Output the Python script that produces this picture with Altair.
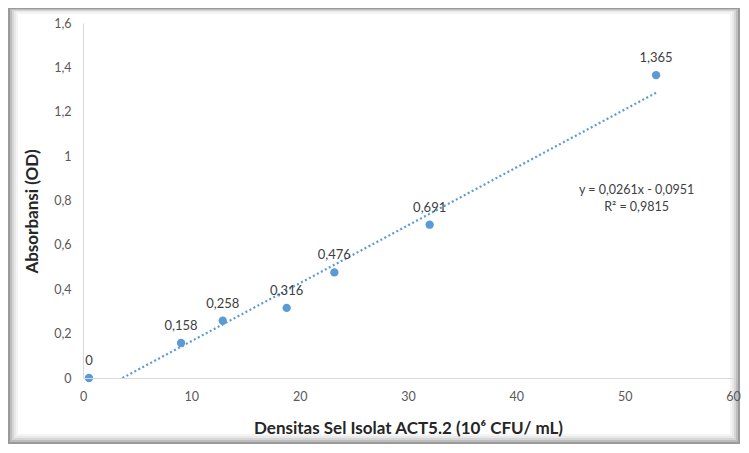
import altair as alt
import pandas as pd

# Data
density = [0.55, 9.05, 12.9, 18.8, 23.2, 32.0, 52.9]
absorbance = [0.0, 0.158, 0.258, 0.316, 0.476, 0.691, 1.365]
labels = ["0", "0,158", "0,258", "0,316", "0,476", "0,691", "1,365"]

# Linear trendline shown on the chart
slope = 0.0261
intercept = -0.0951
eq_lines = ["y = 0,0261x - 0,0951", "R² = 0,9815"]
eq_x = [51.1, 51.1]
eq_y = [0.848, 0.772]

x_ticks = [0, 10, 20, 30, 40, 50, 60]
y_ticks = [0, 0.2, 0.4, 0.6, 0.8, 1.0, 1.2, 1.4, 1.6]

BLUE = "#5b9bd5"
FONT = "Lato"

df = pd.DataFrame({"x": density, "y": absorbance, "label": labels})
x0 = -intercept / slope
x1 = max(density)
trend = pd.DataFrame({"x": [x0, x1], "y": [slope * x0 + intercept, slope * x1 + intercept]})
eq = pd.DataFrame({"x": eq_x, "y": eq_y, "t": eq_lines})

xscale = alt.Scale(domain=[0, 60], nice=False, zero=False)
yscale = alt.Scale(domain=[0, 1.6], nice=False)

lbl = "replace(format(datum.value, '~g'), '.', ',')"

base_x = alt.X("x:Q", scale=xscale,
               axis=alt.Axis(values=x_ticks, labelExpr=lbl, grid=False, ticks=False,
                             labelFlush=False, zindex=1,
                             domainColor="#d9d9d9", labelColor="#595959", labelFont=FONT,
                             labelFontSize=12.5, labelPadding=12,
                             title="Densitas Sel Isolat ACT5.2 (10⁶ CFU/ mL)",
                             titleFont=FONT, titleFontSize=17, titleFontWeight="bold",
                             titleColor="#262626", titlePadding=18))
base_y = alt.Y("y:Q", scale=yscale,
               axis=alt.Axis(values=y_ticks, labelExpr=lbl, grid=False, ticks=False,
                             zindex=1,
                             domainColor="#d9d9d9", labelColor="#595959", labelFont=FONT,
                             labelFontSize=12.5, labelPadding=12,
                             title="Absorbansi (OD)", titleFont=FONT, titleFontSize=17,
                             titleFontWeight="bold", titleColor="#262626", titlePadding=12,
                             titleY=188))

# decorative frame with a soft shadow (page coords 9..739 x 9..443)
frame_data = pd.DataFrame({"k": [0]})
frames = []
for i, col in enumerate(["#9a9a9a", "#bdbdbd", "#d6d6d6", "#e9e9e9", "#f4f4f4"]):
    frames.append(
        alt.Chart(frame_data).mark_rect(fill=None, stroke=col, strokeWidth=2).encode(
            x=alt.value(-74 + i * 2), x2=alt.value(656 - i * 2),
            y=alt.value(-14 + i * 1), y2=alt.value(420 - i * 2)
        )
    )

line = alt.Chart(trend).mark_line(color=BLUE, strokeWidth=2.2, strokeDash=[2, 2.5]).encode(
    x=base_x, y=base_y)
pts = alt.Chart(df).mark_circle(color=BLUE, size=70, opacity=1).encode(x=base_x, y=base_y)
txt = alt.Chart(df).mark_text(font=FONT, fontSize=13, color="#404040", baseline="bottom",
                              dy=-10).encode(x=base_x, y=base_y, text="label:N")
eqt = alt.Chart(eq).mark_text(font=FONT, fontSize=12.5, color="#404040").encode(
    x=base_x, y=base_y, text="t:N")

chart = alt.layer(*frames, line, pts, txt, eqt).properties(
    width=650, height=355,
    autosize=alt.AutoSizeParams(type="none"),
    padding={"left": 75, "top": 15, "right": 8, "bottom": 67},
    background="white",
).configure_view(stroke=None)

chart.save("out.html", embed_options={"renderer": "svg", "actions": False})
